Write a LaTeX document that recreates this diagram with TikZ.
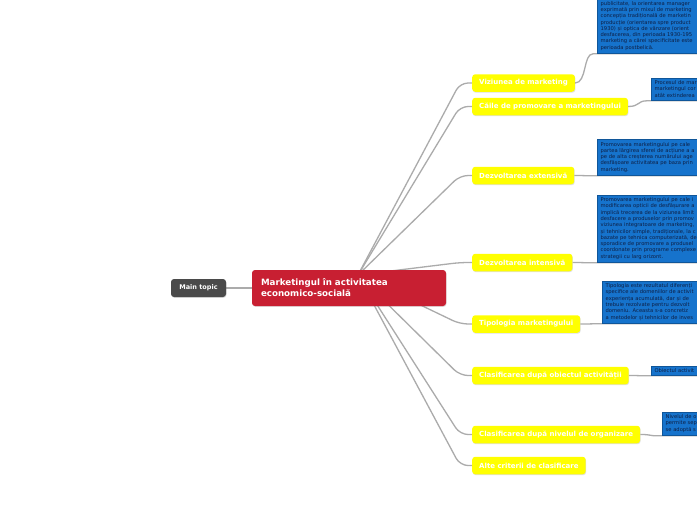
\documentclass[tikz,border=0pt]{standalone}
\usepackage{fontspec}
\setmainfont{DejaVu Sans}
\usetikzlibrary{positioning, backgrounds, shadows}
\definecolor{topicyellow}{HTML}{FFFF00}
\definecolor{centralred}{HTML}{C81F32}
\definecolor{maingray}{HTML}{4A4A4A}
\definecolor{notesblue}{HTML}{1673CC}
\definecolor{notestext}{HTML}{0E1F44}
\definecolor{branchgray}{HTML}{ABABAB}

\begin{document}
\begin{tikzpicture}[x=1pt, y=-1pt,
  branch/.style={draw=branchgray, line width=1.3pt},
  softshadow/.style={drop shadow={shadow xshift=0.5pt, shadow yshift=-0.9pt, opacity=0.25}},
  topic/.style={fill=topicyellow, rounded corners=3pt, text=white, anchor=west,
    font=\bfseries\fontsize{7}{8}\selectfont, minimum height=17.5pt, inner xsep=7pt, softshadow},
  notebox/.style={fill=notesblue, draw=notesblue!75!black, line width=0.3pt, text=notestext,
    font=\fontsize{5.2}{6.3}\selectfont, align=left, anchor=south west,
    inner xsep=3.5pt, inner ysep=2.5pt, text width=140pt, softshadow}]
\useasboundingbox (0,0) rectangle (697,520);
% Root topics
\node[fill=maingray, rounded corners=3pt, text=white, font=\bfseries\fontsize{6.5}{7}\selectfont,
  minimum width=55pt, minimum height=18pt, softshadow] (main) at (198.5,288) {Main topic};
\node[fill=centralred, rounded corners=3pt, text=white, font=\bfseries\fontsize{8.7}{11}\selectfont,
  text width=176pt, inner xsep=9pt, align=left, minimum height=36pt, softshadow]
  (central) at (349,288) {Marketingul în activitatea\\economico-socială};
\coordinate (hub) at (358,275);
% Subtopics
\foreach \n/\y/\txt in {1/83/Viziunea de marketing,
    2/106.5/Căile de promovare a marketingului,
    3/175.5/Dezvoltarea extensivă,
    4/262.5/Dezvoltarea intensivă,
    5/324/Tipologia marketingului,
    6/375.5/Clasificarea după obiectul activității,
    7/434.5/Clasificarea după nivelul de organizare,
    8/465.5/Alte criterii de clasificare} {
  \node[topic] (t\n) at (472,\y) {\txt};
}
% Notes
\node[notebox] (b1) at (597,53) {publicitate, la orientarea manager\\
  exprimată prin mixul de marketing\\
  concepția tradițională de marketin\\
  producție (orientarea spre product\\
  1930) și optica de vânzare (orient\\
  desfacerea, din perioada 1930-195\\
  marketing a cărei specificitate este\\
  perioada postbelică.};
\node[notebox] (b2) at (651,100) {Procesul de mar\\marketingul cor\\atât extinderea};
\node[notebox] (b3) at (597,175) {Promovarea marketingului pe cale\\
  partea lărgirea sferei de acțiune a a\\
  pe de alta creșterea numărului age\\
  desfășoare activitatea pe baza prin\\
  marketing.};
\node[notebox] (b4) at (597,262) {Promovarea marketingului pe cale i\\
  modificarea opticii de desfășurare a\\
  implică trecerea de la viziunea limit\\
  desfacere a produselor prin promov\\
  viziunea integratoare de marketing,\\
  și tehnicilor simple, tradiționale, la c\\
  bazate pe tehnica computerizată, de\\
  sporadice de promovare a produsel\\
  coordonate prin programe complexe\\
  strategii cu larg orizont.};
\node[notebox] (b5) at (602,323) {Tipologia este rezultatul diferenți\\
  specifice ale domeniilor de activit\\
  experiența acumulată, dar și de\\
  trebuie rezolvate pentru dezvolt\\
  domeniu. Aceasta s-a concretiz\\
  a metodelor și tehnicilor de inves};
\node[notebox] (b6) at (651,375) {Obiectul activit};
\node[notebox] (b7) at (662,435) {Nivelul de o\\permite sep\\se adoptă s};
% Branches
\begin{scope}[on background layer]
\fill[white] (0,0) rectangle (697,520);
\draw[branch] (main) -- (central);
\foreach \n in {1,...,8}
  \draw[branch, rounded corners=8pt] (hub) -- ([xshift=-12pt]t\n.west) -- (t\n.west);
\foreach \n in {1,...,7}
  \draw[branch] (t\n.east) .. controls +(12,0) and +(-10,0) .. ([xshift=-4pt,yshift=-0.8pt]b\n.south west)
    -- ([yshift=-0.8pt]b\n.south east);
\end{scope}
\end{tikzpicture}
\end{document}
